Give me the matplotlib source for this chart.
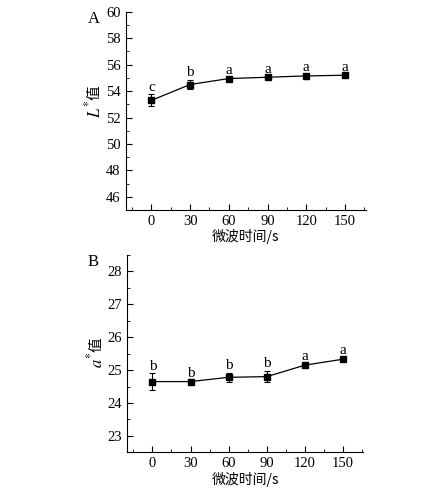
import matplotlib
matplotlib.use("Agg")
import matplotlib.pyplot as plt
from matplotlib.ticker import MultipleLocator

plt.rcParams['font.family'] = ['Liberation Serif', 'Noto Sans CJK SC']
plt.rcParams['mathtext.fontset'] = 'stix'

# 数据
time_s = [0, 30, 60, 90, 120, 150]
L_vals = [53.3, 54.5, 54.95, 55.05, 55.15, 55.2]
L_err = [0.45, 0.35, 0.1, 0.08, 0.08, 0.08]
L_letters = ['c', 'b', 'a', 'a', 'a', 'a']
a_vals = [24.65, 24.65, 24.78, 24.8, 25.15, 25.33]
a_err = [0.25, 0.03, 0.13, 0.17, 0.04, 0.04]
a_letters = ['b', 'b', 'b', 'b', 'a', 'a']
x_ticks = [0, 30, 60, 90, 120, 150]
xlabel = '微波时间/s'

fig = plt.figure(figsize=(4.47, 4.93), dpi=100)
ax1 = fig.add_axes([0.281, 0.574, 0.537, 0.402])
ax2 = fig.add_axes([0.284, 0.0825, 0.529, 0.4005])


def draw_panel(ax, vals, err, letters, ylim, ystep, ysym, label_y, panel, panel_y, text_off):
    ax.errorbar(time_s, vals, yerr=err, color='black', lw=0.9, marker='s', ms=5,
                capsize=2, elinewidth=0.8, capthick=0.8)
    for x, y, e, t in zip(time_s, vals, err, letters):
        ax.text(x, y + e + text_off, t, ha='center', va='bottom', fontsize=11)
    ax.set_xlim(-20, 166)
    ax.set_ylim(*ylim)
    ax.set_xticks(x_ticks)
    ax.xaxis.set_minor_locator(MultipleLocator(15))
    ax.yaxis.set_major_locator(MultipleLocator(ystep))
    ax.yaxis.set_minor_locator(MultipleLocator(ystep / 2))
    ax.set_yticks([v for v in ax.get_yticks() if ylim[0] < v <= ylim[1]])
    ax.spines['top'].set_visible(False)
    ax.spines['right'].set_visible(False)
    ax.tick_params(which='both', direction='in', labelsize=10.5)
    ax.tick_params(which='major', length=4)
    ax.tick_params(which='minor', length=2)
    ax.set_xlabel(xlabel, fontsize=10, labelpad=1,
                  family=['Noto Sans CJK SC', 'Liberation Serif'])
    # y 轴标签：斜体符号 + 中文“值”
    ax.text(-0.13, label_y, r'$\mathit{%s}^{*}$' % ysym, transform=ax.transAxes,
            rotation=90, rotation_mode='anchor', ha='right', va='center', fontsize=12)
    ax.text(-0.13, label_y, '值', transform=ax.transAxes, rotation=90,
            rotation_mode='anchor', ha='left', va='center', fontsize=10.5,
            family=['Noto Sans CJK SC'])
    fig.text(88 / 447, panel_y, panel, fontsize=12, ha='left', va='top')


draw_panel(ax1, L_vals, L_err, L_letters, (45, 60), 2, 'L', 0.555, 'A', 0.978, 0.05)
draw_panel(ax2, a_vals, a_err, a_letters, (22.5, 28.5), 1, 'a', 0.51, 'B', 0.485, 0.02)

fig.savefig('out.png', dpi=100)
